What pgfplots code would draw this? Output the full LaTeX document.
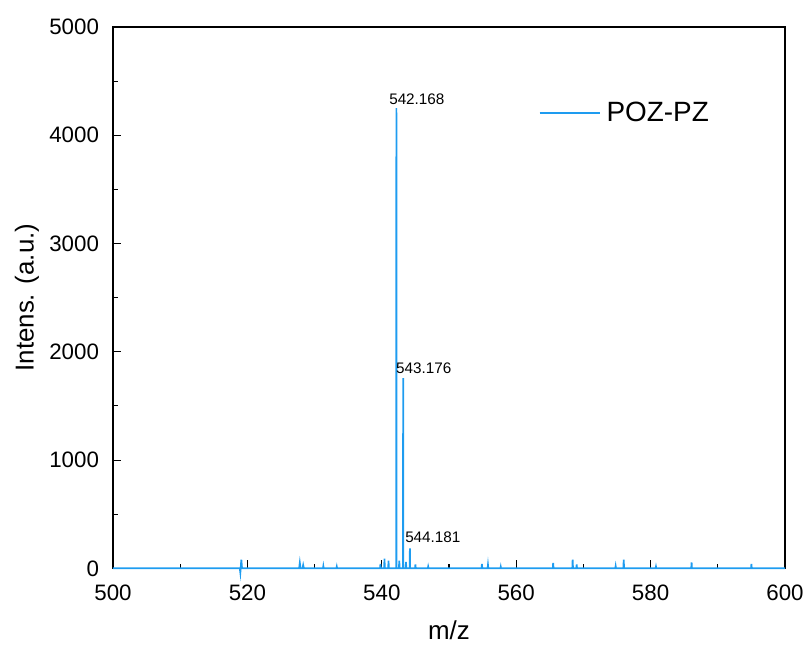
\documentclass[border=0pt]{standalone}
\usepackage{fontspec}
\setmainfont{Liberation Sans}
\usepackage{pgfplots}
\pgfplotsset{compat=1.18}
\definecolor{specblue}{HTML}{1E9CF0}
\begin{document}
\begin{tikzpicture}
\begin{axis}[
  scale only axis,
  width=504bp, height=406bp,
  xmin=500, xmax=600, ymin=0, ymax=5000,
  xtick={500,520,...,600},
  ytick={0,1000,...,5000},
  minor x tick num=1,
  minor y tick num=1,
  tick align=inside,
  xtick pos=bottom, ytick pos=left,
  major tick length=6bp, minor tick length=3.5bp,
  axis line style={line width=0.8pt},
  tick style={line width=0.8pt, black},
  /pgf/number format/assume math mode=true,
  /pgf/number format/1000 sep={},
  ticklabel style={font=\fontsize{16.8}{20}\selectfont},
  xticklabel style={yshift=-9bp},
  yticklabel style={xshift=-7bp},
  xlabel={m/z}, ylabel={Intens. (a.u.)},
  label style={font=\fontsize{19.5}{23}\selectfont},
  xlabel style={yshift=-8bp},
  ylabel style={yshift=1bp},
  legend style={draw=none, fill=none, inner sep=0pt, at={(axis cs:563.3,4205)}, anchor=west, font=\fontsize{21}{25}\selectfont},
  legend cell align=left,
  legend image code/.code={\draw[#1, line width=1.4pt] (0bp,0bp) -- (45bp,0bp);},
  legend style={nodes={inner xsep=4.5bp}},
  clip=false,
]
\addplot[specblue, line width=1.3pt] coordinates {
(500,0)(518.87,0)(518.95,-40)(519.1,80)(519.2,0)
(527.7,0)(527.8,50)(527.9,0)(528.2,0)(528.3,30)(528.4,0)
(531.25,0)(531.3,20)(531.35,0)
(533.25,0)(533.3,15)(533.35,0)
(539.75,0)(539.8,40)(539.85,0)(540.35,0)(540.4,90)(540.45,0)(540.95,0)(541.0,70)(541.05,0)
(542.14,0)(542.17,4250)(542.2,0)(542.55,0)(542.6,70)(542.65,0)(543.15,0)(543.18,1756)(543.21,0)(543.55,0)(543.6,60)(543.65,0)(544.15,0)(544.18,185)(544.21,0)
(544.95,0)(545.0,35)(545.05,0)(546.85,0)(546.9,15)(546.95,0)
(554.85,0)(554.9,40)(554.95,0)(555.75,0)(555.8,30)(555.85,0)(557.65,0)(557.7,15)(557.75,0)
(565.45,0)(565.5,50)(565.55,0)
(568.35,0)(568.4,80)(568.45,0)(568.95,0)(569.0,35)(569.05,0)
(574.75,0)(574.8,20)(574.85,0)(575.95,0)(576.0,80)(576.05,0)
(580.75,0)(580.8,15)(580.85,0)
(586.05,0)(586.1,55)(586.15,0)
(594.95,0)(595.0,40)(595.05,0)(600,0)
};
\addlegendentry{POZ-PZ}
\node[font=\fontsize{11.5}{13}\selectfont, anchor=south west, inner sep=0pt] at (axis cs:541.07,4280) {542.168};
\node[font=\fontsize{11.5}{13}\selectfont, anchor=south west, inner sep=0pt] at (axis cs:542.1,1798) {543.176};
\node[font=\fontsize{11.5}{13}\selectfont, anchor=south west, inner sep=0pt] at (axis cs:543.45,236) {544.181};
\end{axis}
\pgfresetboundingbox
\path ([shift={(-84.75bp,-58.5bp)}]current axis.south west) rectangle ([shift={(17.25bp,20.25bp)}]current axis.north east);
\end{tikzpicture}
\end{document}
